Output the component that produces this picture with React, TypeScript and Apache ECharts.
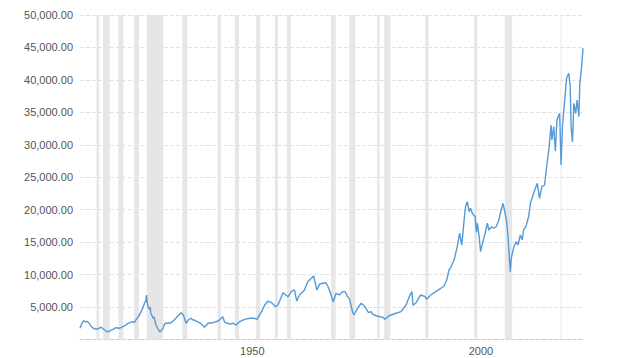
import React, { useEffect, useRef } from "react";
import * as echarts from "echarts";

// Dow Jones (inflation adjusted) — [decimal year, value]
const years: number[] = [
  1915.0, 1915.5, 1915.8, 1916.2, 1916.5, 1916.9, 1917.5, 1918.0, 1918.4, 1918.9,
  1919.5, 1919.8, 1920.4, 1920.9, 1921.5, 1922.2, 1922.9, 1923.6, 1924.4, 1925.0,
  1925.5, 1926.0, 1926.5, 1926.9, 1927.3, 1928.0, 1928.7, 1929.1, 1929.4, 1929.55,
  1929.7, 1929.9, 1930.2, 1930.35, 1930.5, 1931.0, 1931.2, 1931.6, 1932.2, 1932.5,
  1932.9, 1933.2, 1933.4, 1933.7, 1934.2, 1934.9, 1935.6, 1936.4, 1937.1, 1937.6,
  1938.2, 1938.8, 1939.3, 1939.7, 1940.0, 1940.7, 1941.4, 1942.2, 1943.0, 1944.1,
  1945.2, 1945.8, 1946.2, 1946.7, 1947.8, 1948.5, 1949.1, 1949.9, 1951.0, 1952.1,
  1953.2, 1953.7, 1954.7, 1955.4, 1956.1, 1956.9, 1957.8, 1958.3, 1959.4, 1960.0,
  1960.5, 1961.2, 1961.9, 1962.4, 1963.0, 1964.1, 1964.8, 1965.6, 1966.1, 1966.8,
  1967.4, 1968.1, 1968.8, 1969.4, 1969.9, 1970.4, 1971.0, 1971.7, 1972.4, 1973.0,
  1973.5, 1973.9, 1974.6, 1974.9, 1975.7, 1976.5, 1977.2, 1978.1, 1978.7, 1979.0,
  1979.9, 1980.6, 1981.2, 1981.7, 1982.3, 1983.0, 1984.1, 1985.2, 1986.3, 1987.0,
  1987.6, 1987.8, 1988.4, 1989.5, 1990.5, 1990.8, 1991.7, 1992.8, 1993.9, 1994.6,
  1995.2, 1995.7, 1996.1, 1996.8, 1997.5, 1998.0, 1998.5, 1999.0, 1999.3, 1999.7,
  2000.1, 2000.4, 2000.8, 2001.4, 2001.7, 2001.9, 2002.3, 2002.6, 2003.0, 2003.6,
  2004.1, 2004.4, 2005.0, 2005.5, 2006.0, 2006.6, 2007.1, 2007.5, 2007.9, 2008.3,
  2008.6, 2009.1, 2009.3, 2009.9, 2010.4, 2010.8, 2011.3, 2011.7, 2012.0, 2012.5,
  2013.1, 2013.5, 2014.2, 2015.0, 2015.5, 2016.0, 2016.6, 2017.1, 2017.6, 2018.0,
  2018.2, 2018.6, 2018.95, 2019.3, 2019.9, 2020.2, 2020.5, 2021.0, 2021.4, 2021.9,
  2022.2, 2022.4, 2022.7, 2023.0, 2023.4, 2023.7, 2024.1, 2024.3, 2024.7, 2025.0,
];

const values: number[] = [
  1725, 2600, 2900, 2700, 2800, 2590, 1970, 1700, 1620, 1620,
  1880, 1800, 1460, 1200, 1310, 1570, 1820, 1725, 1970, 2200,
  2500, 2600, 2740, 2650, 3110, 3780, 4800, 5580, 6000, 6860,
  5580, 5050, 4650, 5000, 4040, 3270, 3500, 2230, 1460, 1200,
  1460, 1800, 2230, 2500, 2500, 2590, 3000, 3620, 4130, 3780,
  2500, 3110, 3270, 3000, 3000, 2740, 2500, 1880, 2500, 2590,
  2850, 3200, 3520, 2590, 2390, 2500, 2230, 2740, 3110, 3270,
  3270, 3110, 4290, 5320, 5930, 5670, 5050, 5320, 7210, 6860,
  6600, 7370, 7630, 5930, 6860, 7630, 8910, 9430, 9790, 7630,
  8550, 8660, 8750, 7890, 6860, 5830, 7120, 6860, 7370, 7370,
  6600, 6350, 4290, 3780, 4810, 5580, 5160, 4130, 4300, 3880,
  3620, 3510, 3420, 3110, 3510, 3780, 4040, 4290, 5320, 6600,
  7400, 5300, 5580, 6860, 6600, 6190, 6860, 7370, 7890, 8240,
  9170, 10710, 11130, 12250, 14300, 16370, 14560, 18410, 20460, 21240,
  19690, 20220, 19450, 18920, 16500, 17910, 15840, 13530, 14820, 16370,
  17910, 16870, 17380, 17140, 17380, 18410, 19950, 20990, 19690, 18150,
  15840, 10450, 12510, 14300, 15070, 14560, 16100, 15330, 16870, 17380,
  18920, 20990, 22530, 24070, 21760, 23550, 23810, 26890, 29710, 33050,
  30740, 32790, 29000, 33820, 34850, 26890, 32790, 36900, 40250, 41020,
  38960, 32790, 30480, 36400, 34850, 36900, 34330, 39480, 42040, 44870,
];

// US recessions (start, end) in decimal years
const recessionStarts: number[] = [
  1918.6, 1920.0, 1923.4, 1926.8, 1929.6, 1937.4, 1945.1, 1948.9, 1953.5, 1957.6,
  1960.3, 1969.9, 1973.9, 1980.0, 1981.5, 1990.5, 2001.2, 2007.9, 2020.1,
];
const recessionEnds: number[] = [
  1919.2, 1921.5, 1924.5, 1927.9, 1933.2, 1938.5, 1945.8, 1949.8, 1954.4, 1958.3,
  1961.1, 1970.9, 1975.2, 1980.5, 1982.9, 1991.2, 2001.9, 2009.5, 2020.3,
];

const xLabelYears: number[] = [1950, 2000];

export default function App() {
  const ref = useRef<HTMLDivElement>(null);
  useEffect(() => {
    if (!ref.current) return;
    const chart = echarts.init(ref.current, undefined, { renderer: "svg" });
    const font = "'Liberation Sans', Arial, sans-serif";
    chart.setOption({
      animation: false,
      grid: { left: 80, right: 41, top: 15, bottom: 18.5 },
      xAxis: {
        type: "value",
        min: 1915,
        max: 2025,
        interval: 5,
        axisLine: { show: true, lineStyle: { color: "#cccccc", type: "dashed", width: 1 } },
        axisTick: { show: false },
        splitLine: { show: false },
        axisLabel: {
          formatter: (v: number) => (xLabelYears.includes(v) ? String(v) : ""),
          align: "left",
          margin: 6,
          color: "#555",
          fontSize: 11,
          fontFamily: font,
        },
      },
      yAxis: {
        type: "value",
        min: 0,
        max: 50000,
        interval: 5000,
        axisLine: { show: false },
        axisTick: { show: false },
        splitLine: { show: true, lineStyle: { color: "#e2e2e2", type: "dashed", width: 1 } },
        axisLabel: {
          formatter: (v: number) =>
            v === 0 ? "" : v.toLocaleString("en-US", { minimumFractionDigits: 2, maximumFractionDigits: 2 }),
          margin: 7,
          color: "#555",
          fontSize: 11,
          fontFamily: font,
        },
      },
      series: [
        {
          type: "line",
          data: years.map((y, i) => [y, values[i]]),
          showSymbol: false,
          symbol: "none",
          lineStyle: { color: "#5599d8", width: 1.4 },
          z: 3,
          markArea: {
            silent: true,
            itemStyle: { color: "#e6e6e6" },
            data: recessionStarts.map((s, i) => [{ xAxis: s }, { xAxis: recessionEnds[i] }]),
          },
        },
      ],
    });
    return () => chart.dispose();
  }, []);
  return (
    <div
      ref={ref}
      style={{ position: "absolute", left: 0, top: 0, width: 624, height: 358 }}
    />
  );
}
